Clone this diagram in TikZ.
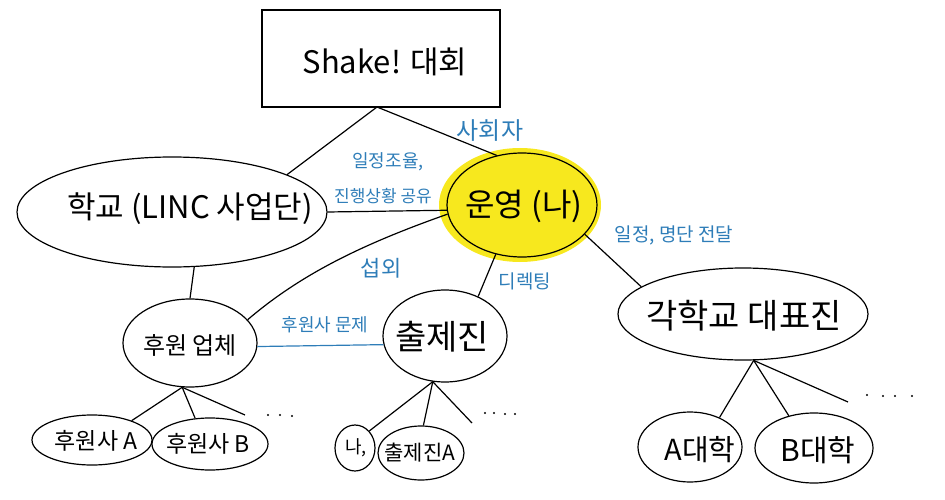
\documentclass[tikz,border=0pt]{standalone}
\usepackage{fontspec}
\setmainfont{Noto Sans CJK KR}
\usetikzlibrary{shapes.geometric}
\definecolor{hblue}{RGB}{46,125,184}
\definecolor{hyellow}{RGB}{247,232,30}
\newcommand{\fs}[1]{\fontsize{#1}{#1}\selectfont}
\begin{document}
\begin{tikzpicture}[x=1pt,y=-1pt,
  ell/.style={draw, ellipse, inner sep=0pt, line width=1.2pt},
  txt/.style={inner sep=0pt},
  lbl/.style={text=hblue, inner sep=0pt},
  con/.style={draw, line width=1.2pt},
  bcon/.style={draw=hblue, line width=1.2pt},
  dot/.style={fill, circle, inner sep=0pt, minimum size=2.4pt}]
\useasboundingbox (0,0) rectangle (945,500);
% top box
\node[draw, line width=1.2pt, minimum width=238pt, minimum height=97pt, inner sep=0pt] (box) at (381,58.5) {};
\node[txt, font=\fs{31}] (tbox) at (385,62) {Shake! 대회};
\coordinate (apex) at (377,107);
% main ellipses
\node[ellipse, fill=hyellow, inner sep=0pt, minimum width=162pt, minimum height=114pt] (unbg) at (520,205) {};
\node[ell, minimum width=150pt, minimum height=104pt] (un) at (522,205) {};
\node[txt, font=\fs{32}] (tun) at (524,206) {운영 (나)};
\node[ell, minimum width=310pt, minimum height=110pt] (hak) at (172,212) {};
\node[txt, font=\fs{31}] (thak) at (190,209) {학교 (LINC 사업단)};
\node[ell, minimum width=134pt, minimum height=88pt] (hu) at (190,343) {};
\node[txt, font=\fs{24}] (thu) at (190,345) {후원 업체};
\node[ell, minimum width=124pt, minimum height=92pt] (chul) at (445,336) {};
\node[txt, font=\fs{34}] (tchul) at (442,337) {출제진};
\node[ell, minimum width=250pt, minimum height=92pt] (gak) at (743,314) {};
\node[txt, font=\fs{34}] (tgak) at (744,316) {각학교 대표진};
% leaves
\node[ell, minimum width=120pt, minimum height=50pt] (spA) at (92,440) {};
\node[txt, font=\fs{23}] (tspA) at (96,441) {후원사 A};
\node[ell, minimum width=116pt, minimum height=52pt] (spB) at (210,444) {};
\node[txt, font=\fs{23}] (tspB) at (208,444) {후원사 B};
\node[ell, minimum width=40pt, minimum height=46pt] (na) at (355,448) {};
\node[txt, font=\fs{18}] (tna) at (356,448) {나,};
\node[ell, minimum width=86pt, minimum height=54pt] (cjA) at (421,453) {};
\node[txt, font=\fs{21}] (tcjA) at (420,453) {출제진A};
\node[ell, minimum width=104pt, minimum height=70pt] (aU) at (690,447) {};
\node[txt, font=\fs{29}] (taU) at (700,450) {A대학};
\node[ell, minimum width=118pt, minimum height=70pt] (bU) at (814,448) {};
\node[txt, font=\fs{30}] (tbU) at (818,450) {B대학};
% connectors
\draw[con] (apex) -- (hak.18);
\draw[con] (apex) -- (un.117);
\draw[con] (hak.0) -- (un.184);
\draw[con] (hak.-68) -- (hu.north);
\draw[con] (hu.22) .. controls (300,275) and (360,245) .. (un.187);
\draw[bcon] (hu.-3) -- (chul.188);
\draw[con] (chul.50) -- (un.242);
\draw[con] (un.-25) -- (gak.165);
% children
\coordinate (huD) at (245,415);
\coordinate (chD) at (472,423);
\coordinate (gkD) at (848,402);
\draw[con] (hu.-100) -- (spA.26);
\draw[con] (hu.-100) -- (spB.120);
\draw[con] (hu.-100) -- (huD);
\draw[con] (chul.-105) -- (na.50);
\draw[con] (chul.-105) -- (cjA.85);
\draw[con] (chul.-105) -- (chD);
\draw[con] (gak.-77) -- (aU.45);
\draw[con] (gak.-77) -- (bU.128);
\draw[con] (gak.-77) -- (gkD);
% dots
\node[dot] (d1) at (268,415) {};
\node[dot] (d2) at (280,415) {};
\node[dot] (d3) at (292,416) {};
\node[dot] (d4) at (485,413) {};
\node[dot] (d5) at (494,413) {};
\node[dot] (d6) at (505,414) {};
\node[dot] (d7) at (515,414) {};
\node[dot] (d8) at (867,395) {};
\node[dot] (d9) at (883,396) {};
\node[dot] (d10) at (895,396) {};
\node[dot] (d11) at (912,396) {};
% labels
\node[lbl, font=\fs{24}] (l1) at (490,131) {사회자};
\node[lbl, font=\fs{18}] (l2) at (388,162) {일정조율,};
\node[lbl, font=\fs{17}] (l3) at (383,196) {진행상황 공유};
\node[lbl, font=\fs{22}] (l4) at (381,268) {섭외};
\node[lbl, font=\fs{19}] (l5) at (525,281) {디렉팅};
\node[lbl, font=\fs{18}] (l6) at (325,325) {후원사 문제};
\node[lbl, font=\fs{19}] (l7) at (674,235) {일정, 명단 전달};
\end{tikzpicture}
\end{document}
